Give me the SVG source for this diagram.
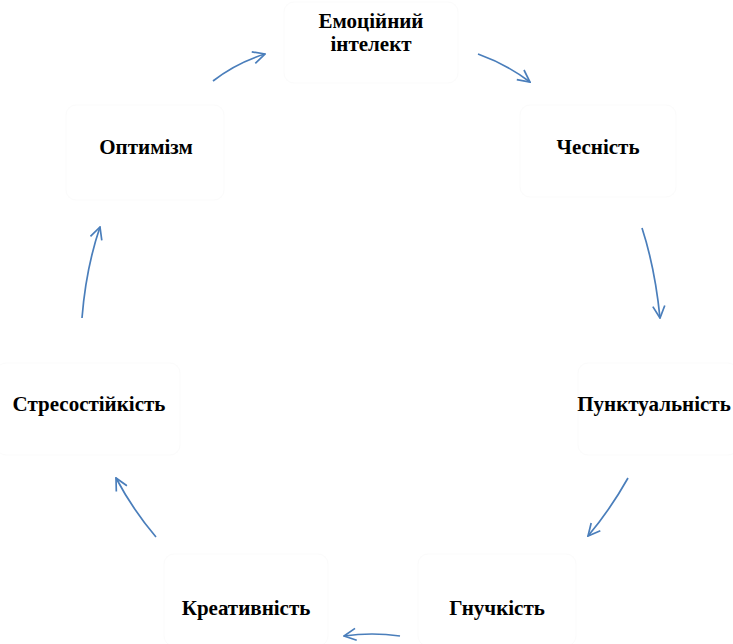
<svg xmlns="http://www.w3.org/2000/svg" width="733" height="644" viewBox="0 0 733 644">
<style>
.box{fill:#fff;stroke:#fbfbfb;stroke-width:1}
.arr{fill:none;stroke:#4a7ebb;stroke-width:1.7;marker-end:url(#ah)}
</style>
<defs>
<marker id="ah" viewBox="0 0 14 14" refX="13" refY="7" markerWidth="14" markerHeight="14" markerUnits="userSpaceOnUse" orient="auto">
<path d="M1,1 L13,7 L1,13" fill="none" stroke="#4a7ebb" stroke-width="1.7"/>
</marker>
</defs>
<rect width="733" height="644" fill="#fff"/>
<g font-family="Liberation Serif, Times New Roman, serif" font-weight="bold" font-size="21" fill="#000" text-anchor="middle">
<g id="n-emotional">
<rect class="box" x="284" y="2" width="174" height="81" rx="10"/>
<text x="371" y="28">Емоційний</text>
<text x="371" y="51">інтелект</text>
</g>
<g id="n-honesty">
<rect class="box" x="520" y="105" width="156" height="92" rx="10"/>
<text x="598" y="154">Чесність</text>
</g>
<g id="n-punctuality">
<rect class="box" x="578" y="363" width="160" height="92" rx="10"/>
<text x="654" y="411">Пунктуальність</text>
</g>
<g id="n-flexibility">
<rect class="box" x="418" y="554" width="158" height="92" rx="10"/>
<text x="497" y="615">Гнучкість</text>
</g>
<g id="n-creativity">
<rect class="box" x="164" y="554" width="164" height="92" rx="10"/>
<text x="246" y="615">Креативність</text>
</g>
<g id="n-resilience">
<rect class="box" x="-4" y="363" width="184" height="92" rx="10"/>
<text x="89" y="411">Стресостійкість</text>
</g>
<g id="n-optimism">
<rect class="box" x="66" y="105" width="158" height="95" rx="10"/>
<text x="146" y="154">Оптимізм</text>
</g>
</g>
<g id="connectors">
<path class="arr" d="M213,81 Q236,63 265,54"/>
<path class="arr" d="M478,54 Q506,64 530,82"/>
<path class="arr" d="M642,228 Q655,268 660,318"/>
<path class="arr" d="M628,478 Q610,510 588,536"/>
<path class="arr" d="M400,636 Q372,632 344,636"/>
<path class="arr" d="M156,537 Q133,510 116,478"/>
<path class="arr" d="M82,318 Q86,268 100,227"/>
</g>
</svg>
